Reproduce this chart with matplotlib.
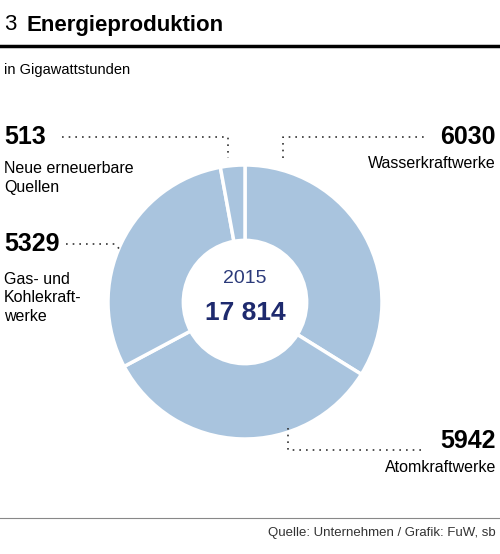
import matplotlib.pyplot as plt
from matplotlib.lines import Line2D

plt.rcParams['font.family'] = ['Liberation Sans Narrow', 'Liberation Sans', 'DejaVu Sans']

labels = ["Wasserkraftwerke", "Atomkraftwerke", "Gas- und\nKohlekraft-\nwerke", "Neue erneuerbare\nQuellen"]
values = [6030, 5942, 5329, 513]
value_text = ["6030", "5942", "5329", "513"]
total_text = "17 814"
year = "2015"

W, H = 500, 554
fig = plt.figure(figsize=(5, 5.54), dpi=100)

def fx(x):
    return x / W

def fy(y):
    return 1 - y / H

# Pie
cx, cy, r = 245, 302, 137
ax = fig.add_axes([fx(cx - r), fy(cy + r), 2 * r / W, 2 * r / H])
ax.pie(values, startangle=90, counterclock=False, colors=["#a9c4de"] * 4,
       wedgeprops=dict(width=0.55, edgecolor="white", linewidth=2.5))
ax.set_xlim(-1, 1)
ax.set_ylim(-1, 1)
ax.set_aspect("equal")
ax.text(0, 0.17, year, ha="center", va="center", fontsize=14, color="#2b3a7a")
ax.text(0, -0.08, total_text, ha="center", va="center", fontsize=19, fontweight="bold", color="#1e2a6e")

# Title and frame lines
fig.text(fx(4), fy(25), "3", fontsize=16, va="center", color="black")
fig.text(fx(26), fy(25), "Energieproduktion", fontsize=16, fontweight="bold", va="center")
fig.add_artist(Line2D([0, 1], [fy(46), fy(46)], color="black", lw=2.5))
fig.text(fx(4), fy(70), "in Gigawattstunden", fontsize=10.5, va="center")
fig.add_artist(Line2D([0, 1], [fy(518), fy(518)], color="#888888", lw=0.8))
fig.text(fx(496), fy(533), "Quelle: Unternehmen / Grafik: FuW, sb", fontsize=9.5, ha="right", va="center", color="#333333")

def dotted(xs, ys):
    fig.add_artist(Line2D([fx(x) for x in xs], [fy(y) for y in ys], color="#333333",
                          lw=1.2, linestyle=(0, (1, 3))))

# Left labels
fig.text(fx(4), fy(137), value_text[3], fontsize=18, fontweight="bold", va="center")
fig.text(fx(4), fy(178), labels[3], fontsize=11.5, va="center", linespacing=1.3)
dotted([62, 228, 228], [137, 137, 158])

fig.text(fx(4), fy(244), value_text[2], fontsize=18, fontweight="bold", va="center")
fig.text(fx(4), fy(298), labels[2], fontsize=11.5, va="center", linespacing=1.3)
dotted([66, 115, 122], [244, 244, 252])

# Right labels
fig.text(fx(496), fy(137), value_text[0], fontsize=18, fontweight="bold", va="center", ha="right")
fig.text(fx(496), fy(163), labels[0], fontsize=11.5, va="center", ha="right")
dotted([283, 283, 425], [158, 137, 137])

fig.text(fx(496), fy(441), value_text[1], fontsize=18, fontweight="bold", va="center", ha="right")
fig.text(fx(496), fy(468), labels[1], fontsize=11.5, va="center", ha="right")
dotted([288, 288, 425], [428, 450, 450])

fig.savefig("out.png", dpi=100)
